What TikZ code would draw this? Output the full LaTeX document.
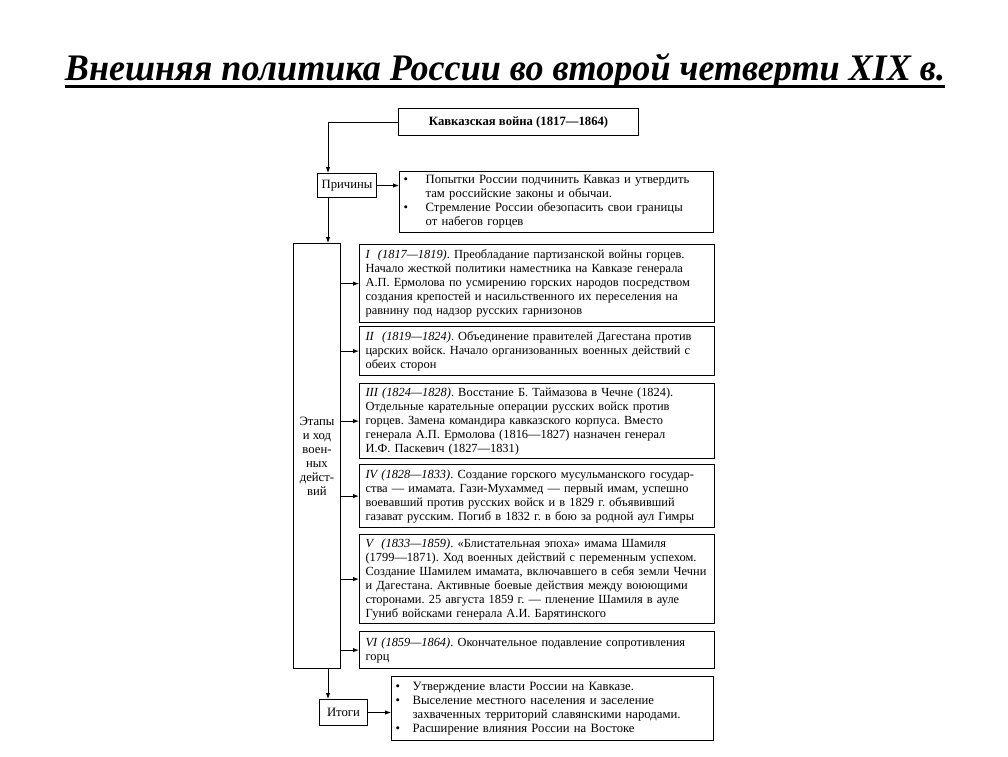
\documentclass[tikz,border=0pt]{standalone}
\usepackage{fontspec}
\setmainfont{Liberation Serif}
\usetikzlibrary{arrows.meta,calc}
\begin{document}
\frenchspacing
\begin{tikzpicture}[x=1pt,y=-1pt,
  every node/.style={font=\fontsize{12.7}{14}\selectfont},
  stagebox/.style={draw,line width=1.2pt,anchor=north west,inner xsep=6pt,inner ysep=0pt,align=left,text width=343pt,minimum width=353pt,font=\fontsize{12.4}{14}\selectfont},
  labbox/.style={draw,line width=1pt,anchor=north west,inner sep=0pt,align=center},
  listbox/.style={draw,line width=1.2pt,anchor=north west,inner xsep=4pt,inner ysep=0pt,align=left},
  arr/.style={-{Latex[length=6pt,width=4.5pt]},line width=0.9pt},
]
\newcommand{\bul}{\makebox[22pt][l]{\textbullet}}
\newcommand{\bulr}{\makebox[17pt][l]{\textbullet}}
\useasboundingbox (0,0) rectangle (1008,756);

% title
\node[anchor=base,inner sep=0pt] (title) at (505,80)
  {\resizebox{880pt}{27pt}{\fontsize{38}{40}\selectfont\bfseries\itshape Внешняя политика России во второй четверти XIX в.}};
\draw[line width=3pt] ([yshift=-6pt]title.base west) -- ([yshift=-6pt]title.base east);

% top box
\node[labbox,line width=1.2pt,minimum width=240pt,minimum height=27pt] (top) at (398,108)
  {\bfseries Кавказская война (1817—1864)};

% causes
\node[labbox,minimum width=59pt,minimum height=24pt] (pr) at (317,173) {Причины};
\node[listbox,text width=306pt,minimum width=314pt,minimum height=61pt] (rs) at (399,171)
  {\bul Попытки России подчинить Кавказ и утвердить\\
   \hspace*{22pt}там российские законы и обычаи.\\
   \bul Стремление России обезопасить свои границы\\
   \hspace*{22pt}от набегов горцев};

% stages label
\node[labbox,minimum width=47pt,minimum height=425pt] (et) at (293,243)
  {Этапы\\и ход\\воен-\\ных\\дейст-\\вий};

% stage boxes
\node[stagebox,minimum height=78pt] (s1) at (359,244)
  {\textit{I\ \ (1817—1819)}. Преобладание партизанской войны горцев.\\
   Начало жесткой политики наместника на Кавказе генерала\\
   А.П. Ермолова по усмирению горских народов посредством\\
   создания крепостей и насильственного их переселения на\\
   равнину под надзор русских гарнизонов};
\node[stagebox,minimum height=49pt] (s2) at (359,326)
  {\textit{II\ \ (1819—1824)}. Объединение правителей Дагестана против\\
   царских войск. Начало организованных военных действий с\\
   обеих сторон};
\node[stagebox,minimum height=75pt] (s3) at (359,383)
  {\textit{III (1824—1828)}. Восстание Б. Таймазова в Чечне (1824).\\
   Отдельные карательные операции русских войск против\\
   горцев. Замена командира кавказского корпуса. Вместо\\
   генерала А.П. Ермолова (1816—1827) назначен генерал\\
   И.Ф. Паскевич (1827—1831)};
\node[stagebox,minimum height=63pt] (s4) at (359,464)
  {\textit{IV (1828—1833)}. Создание горского мусульманского государ-\\
   ства — имамата. Гази-Мухаммед — первый имам, успешно\\
   воевавший против русских войск и в 1829 г. объявивший\\
   газават русским. Погиб в 1832 г. в бою за родной аул Гимры};
\node[stagebox,minimum height=89pt] (s5) at (359,534)
  {\textit{V\ \ (1833—1859)}. «Блистательная эпоха» имама Шамиля\\
   (1799—1871). Ход военных действий с переменным успехом.\\
   Создание Шамилем имамата, включавшего в себя земли Чечни\\
   и Дагестана. Активные боевые действия между воюющими\\
   сторонами. 25 августа 1859 г. — пленение Шамиля в ауле\\
   Гуниб войсками генерала А.И. Барятинского};
\node[stagebox,minimum height=37pt] (s6) at (359,631)
  {\textit{VI (1859—1864)}. Окончательное подавление сопротивления\\
   горц};

% results
\node[labbox,minimum width=48pt,minimum height=26pt] (it) at (319,699) {Итоги};
\node[listbox,text width=314pt,minimum width=322pt,minimum height=64pt] (res) at (391,676)
  {\bulr Утверждение власти России на Кавказе.\\
   \bulr Выселение местного населения и заселение\\
   \hspace*{17pt}захваченных территорий славянскими народами.\\
   \bulr Расширение влияния России на Востоке};

% connectors
\coordinate (v1) at ($(pr.south west)+(11,0)$);
\draw[arr] (top.west) -| ([xshift=11pt]pr.north west);
\draw[arr] (pr.east) -- (pr.east -| rs.west);
\draw[arr] (v1) -- (v1 |- et.north);
\foreach \s in {s1,s2,s3,s4,s5,s6}
  \draw[arr] (et.east |- \s.west) -- (\s.west);
\draw[arr] (et.south -| v1) -- (v1 |- it.north);
\draw[arr] (it.east) -- (it.east -| res.west);
\end{tikzpicture}
\end{document}
